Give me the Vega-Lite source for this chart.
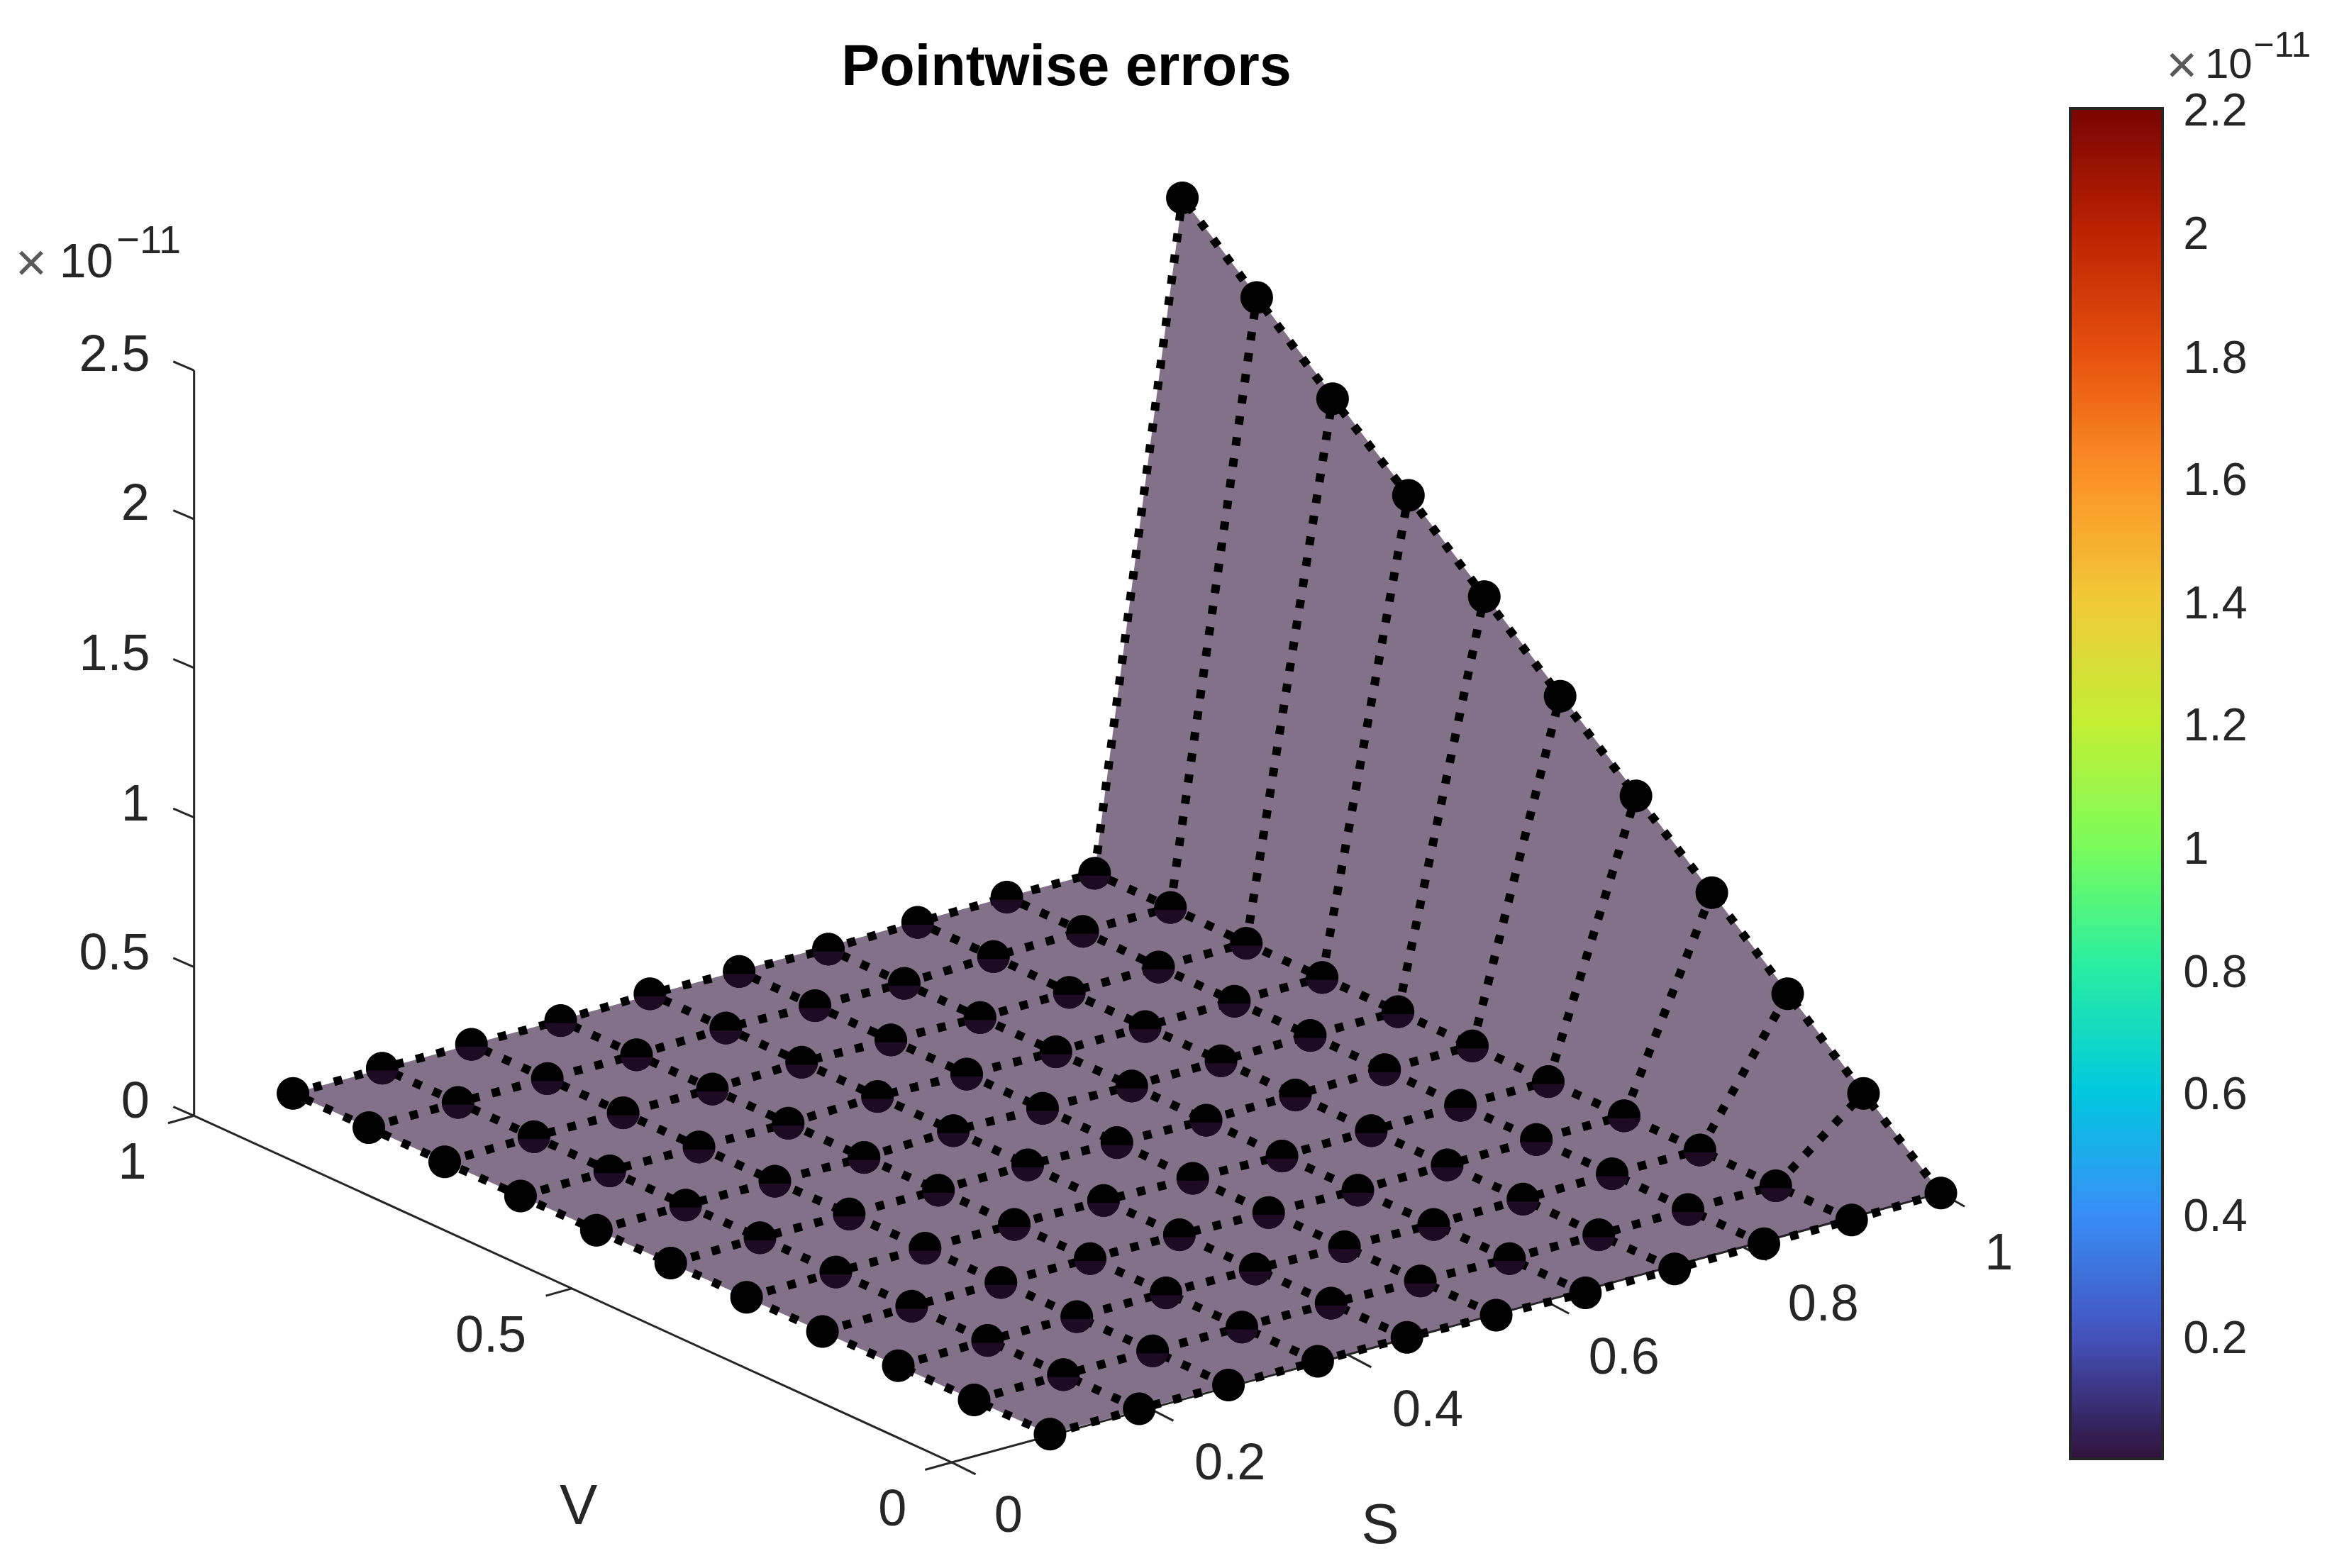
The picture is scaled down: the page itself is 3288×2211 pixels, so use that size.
{
"$schema":"https://vega.github.io/schema/vega-lite/v6.json",
"width":3288,"height":2211,"padding":0,
"autosize":{"type":"fit","contains":"padding"},
"background":"white",
"view":{"stroke":null},
"config":{"text":{"font":"Liberation Sans","color":"#262626"}},
"datasets":{
"surface":[{"px":197,"py":735,"py2":735},{"px":706,"py":595,"py2":964},{"px":736,"py":587,"py2":956},{"px":795,"py":133,"py2":940},{"px":1305,"py":802,"py2":802}],
"axes":[
{"seg":"z","px":130.5,"py":249},{"seg":"z","px":130.5,"py":750},
{"seg":"v","px":130.5,"py":750},{"seg":"v","px":640,"py":983},
{"seg":"s","px":640,"py":983},{"seg":"s","px":1305,"py":802},
{"seg":"zt0","px":130.5,"py":750},{"seg":"zt0","px":116.5,"py":744},
{"seg":"zt1","px":130.5,"py":650},{"seg":"zt1","px":116.5,"py":644},
{"seg":"zt2","px":130.5,"py":549.5},{"seg":"zt2","px":116.5,"py":543.5},
{"seg":"zt3","px":130.5,"py":449},{"seg":"zt3","px":116.5,"py":443},
{"seg":"zt4","px":130.5,"py":349},{"seg":"zt4","px":116.5,"py":343},
{"seg":"zt5","px":130.5,"py":249},{"seg":"zt5","px":116.5,"py":243},
{"seg":"vt0","px":640,"py":983},{"seg":"vt0","px":622,"py":988},
{"seg":"vt1","px":385,"py":866},{"seg":"vt1","px":367,"py":871},
{"seg":"vt2","px":130.5,"py":750},{"seg":"vt2","px":113,"py":755},
{"seg":"st0","px":640,"py":983},{"seg":"st0","px":656,"py":991},
{"seg":"st1","px":773,"py":946.8},{"seg":"st1","px":789,"py":955},
{"seg":"st2","px":906,"py":910.6},{"seg":"st2","px":922,"py":919},
{"seg":"st3","px":1039,"py":874.4},{"seg":"st3","px":1055,"py":883},
{"seg":"st4","px":1172,"py":838.2},{"seg":"st4","px":1188,"py":847},
{"seg":"st5","px":1305,"py":802},{"seg":"st5","px":1321,"py":811}
],
"cbticks":[
{"v":0.2,"px":1445,"py":898.5},{"v":0.2,"px":1454,"py":898.5},
{"v":0.4,"px":1445,"py":815.9},{"v":0.4,"px":1454,"py":815.9},
{"v":0.6,"px":1445,"py":733.4},{"v":0.6,"px":1454,"py":733.4},
{"v":0.8,"px":1445,"py":650.8},{"v":0.8,"px":1454,"py":650.8},
{"v":1.0,"px":1445,"py":568.3},{"v":1.0,"px":1454,"py":568.3},
{"v":1.2,"px":1445,"py":485.8},{"v":1.2,"px":1454,"py":485.8},
{"v":1.4,"px":1445,"py":403.2},{"v":1.4,"px":1454,"py":403.2},
{"v":1.6,"px":1445,"py":320.7},{"v":1.6,"px":1454,"py":320.7},
{"v":1.8,"px":1445,"py":238.1},{"v":1.8,"px":1454,"py":238.1},
{"v":2.0,"px":1445,"py":155.6},{"v":2.0,"px":1454,"py":155.6}
],
"cblabels":[
{"t":"2.2","px":1468,"py":75},{"t":"2","px":1468,"py":158},{"t":"1.8","px":1468,"py":241},{"t":"1.6","px":1468,"py":323},{"t":"1.4","px":1468,"py":406},{"t":"1.2","px":1468,"py":488},{"t":"1","px":1468,"py":571},{"t":"0.8","px":1468,"py":654},{"t":"0.6","px":1468,"py":736},{"t":"0.4","px":1468,"py":818},{"t":"0.2","px":1468,"py":900}
],
"ticklabels":[
{"t":"2.5","px":77,"py":239},{"t":"2","px":91,"py":339},{"t":"1.5","px":77,"py":440},{"t":"1","px":91,"py":541},{"t":"0.5","px":77,"py":641},{"t":"0","px":91,"py":741},
{"t":"1","px":89,"py":782},{"t":"0.5","px":330,"py":898},{"t":"0","px":600,"py":1015},
{"t":"0","px":678,"py":1019},{"t":"0.2","px":827,"py":984},{"t":"0.4","px":960,"py":948},{"t":"0.6","px":1092,"py":913},{"t":"0.8","px":1226,"py":877},{"t":"1","px":1344,"py":843}
],
"axisnames":[{"t":"V","px":389,"py":1013},{"t":"S","px":928,"py":1026}],
"titles":[{"t":"Pointwise errors","px":717,"py":46}],
"times":[{"t":"×","px":21,"py":178},{"t":"×","px":1467,"py":45}],
"multz":[{"t":"10","px":58,"py":177}],
"multc":[{"t":"10","px":1498.5,"py":44}],
"expz":[{"t":"−11","px":100,"py":162}],
"expc":[{"t":"−11","px":1534.5,"py":31}],
"grid":[
{"S":0,"V":0,"Z":0,"px":706,"py":964},{"S":0,"V":0.1,"Z":0,"px":655,"py":941},{"S":0,"V":0.2,"Z":0,"px":604,"py":918},{"S":0,"V":0.3,"Z":0,"px":553,"py":895},{"S":0,"V":0.4,"Z":0,"px":502,"py":872},{"S":0,"V":0.5,"Z":0,"px":451,"py":849},{"S":0,"V":0.6,"Z":0,"px":401,"py":827},{"S":0,"V":0.7,"Z":0,"px":350,"py":804},{"S":0,"V":0.8,"Z":0,"px":299,"py":781},{"S":0,"V":0.9,"Z":0,"px":248,"py":758},{"S":0,"V":1,"Z":0,"px":197,"py":735},
{"S":0.1,"V":0,"Z":0,"px":766,"py":947},{"S":0.1,"V":0.1,"Z":0,"px":715,"py":924},{"S":0.1,"V":0.2,"Z":0,"px":664,"py":901},{"S":0.1,"V":0.3,"Z":0,"px":613,"py":878},{"S":0.1,"V":0.4,"Z":0,"px":562,"py":855},{"S":0.1,"V":0.5,"Z":0,"px":511,"py":832},{"S":0.1,"V":0.6,"Z":0,"px":461,"py":810},{"S":0.1,"V":0.7,"Z":0,"px":410,"py":787},{"S":0.1,"V":0.8,"Z":0,"px":359,"py":764},{"S":0.1,"V":0.9,"Z":0,"px":308,"py":741},{"S":0.1,"V":1,"Z":0,"px":257,"py":718},
{"S":0.2,"V":0,"Z":0,"px":826,"py":931},{"S":0.2,"V":0.1,"Z":0,"px":775,"py":908},{"S":0.2,"V":0.2,"Z":0,"px":724,"py":885},{"S":0.2,"V":0.3,"Z":0,"px":673,"py":862},{"S":0.2,"V":0.4,"Z":0,"px":622,"py":839},{"S":0.2,"V":0.5,"Z":0,"px":571,"py":816},{"S":0.2,"V":0.6,"Z":0,"px":521,"py":794},{"S":0.2,"V":0.7,"Z":0,"px":470,"py":771},{"S":0.2,"V":0.8,"Z":0,"px":419,"py":748},{"S":0.2,"V":0.9,"Z":0,"px":368,"py":725},{"S":0.2,"V":1,"Z":0,"px":317,"py":702},
{"S":0.3,"V":0,"Z":0,"px":886,"py":915},{"S":0.3,"V":0.1,"Z":0,"px":835,"py":892},{"S":0.3,"V":0.2,"Z":0,"px":784,"py":869},{"S":0.3,"V":0.3,"Z":0,"px":733,"py":846},{"S":0.3,"V":0.4,"Z":0,"px":682,"py":823},{"S":0.3,"V":0.5,"Z":0,"px":631,"py":800},{"S":0.3,"V":0.6,"Z":0,"px":581,"py":778},{"S":0.3,"V":0.7,"Z":0,"px":530,"py":755},{"S":0.3,"V":0.8,"Z":0,"px":479,"py":732},{"S":0.3,"V":0.9,"Z":0,"px":428,"py":709},{"S":0.3,"V":1,"Z":0,"px":377,"py":686},
{"S":0.4,"V":0,"Z":0,"px":946,"py":899},{"S":0.4,"V":0.1,"Z":0,"px":895,"py":876},{"S":0.4,"V":0.2,"Z":0,"px":844,"py":853},{"S":0.4,"V":0.3,"Z":0,"px":793,"py":830},{"S":0.4,"V":0.4,"Z":0,"px":742,"py":807},{"S":0.4,"V":0.5,"Z":0,"px":691,"py":783},{"S":0.4,"V":0.6,"Z":0,"px":641,"py":760},{"S":0.4,"V":0.7,"Z":0,"px":590,"py":737},{"S":0.4,"V":0.8,"Z":0,"px":539,"py":714},{"S":0.4,"V":0.9,"Z":0,"px":488,"py":691},{"S":0.4,"V":1,"Z":0,"px":437,"py":668},
{"S":0.5,"V":0,"Z":0,"px":1006,"py":884},{"S":0.5,"V":0.1,"Z":0,"px":955,"py":861},{"S":0.5,"V":0.2,"Z":0,"px":904,"py":838},{"S":0.5,"V":0.3,"Z":0,"px":853,"py":815},{"S":0.5,"V":0.4,"Z":0,"px":802,"py":792},{"S":0.5,"V":0.5,"Z":0,"px":751,"py":768},{"S":0.5,"V":0.6,"Z":0,"px":701,"py":745},{"S":0.5,"V":0.7,"Z":0,"px":650,"py":722},{"S":0.5,"V":0.8,"Z":0,"px":599,"py":699},{"S":0.5,"V":0.9,"Z":0,"px":548,"py":676},{"S":0.5,"V":1,"Z":0,"px":497,"py":653},
{"S":0.6,"V":0,"Z":0,"px":1066,"py":869},{"S":0.6,"V":0.1,"Z":0,"px":1015,"py":846},{"S":0.6,"V":0.2,"Z":0,"px":964,"py":823},{"S":0.6,"V":0.3,"Z":0,"px":913,"py":800},{"S":0.6,"V":0.4,"Z":0,"px":862,"py":777},{"S":0.6,"V":0.5,"Z":0,"px":811,"py":753},{"S":0.6,"V":0.6,"Z":0,"px":761,"py":730},{"S":0.6,"V":0.7,"Z":0,"px":710,"py":707},{"S":0.6,"V":0.8,"Z":0,"px":659,"py":684},{"S":0.6,"V":0.9,"Z":0,"px":608,"py":661},{"S":0.6,"V":1,"Z":0,"px":557,"py":638},
{"S":0.7,"V":0,"Z":0,"px":1126,"py":853},{"S":0.7,"V":0.1,"Z":0,"px":1075,"py":830},{"S":0.7,"V":0.2,"Z":0,"px":1024,"py":806},{"S":0.7,"V":0.3,"Z":0,"px":973,"py":783},{"S":0.7,"V":0.4,"Z":0,"px":922,"py":760},{"S":0.7,"V":0.5,"Z":0,"px":871,"py":736},{"S":0.7,"V":0.6,"Z":0,"px":821,"py":713},{"S":0.7,"V":0.7,"Z":0,"px":770,"py":690},{"S":0.7,"V":0.8,"Z":0,"px":719,"py":667},{"S":0.7,"V":0.9,"Z":0,"px":668,"py":643},{"S":0.7,"V":1,"Z":0,"px":617,"py":620},
{"S":0.8,"V":0,"Z":0,"px":1186,"py":836},{"S":0.8,"V":0.1,"Z":0,"px":1135,"py":813},{"S":0.8,"V":0.2,"Z":0,"px":1084,"py":789},{"S":0.8,"V":0.3,"Z":0,"px":1033,"py":766},{"S":0.8,"V":0.4,"Z":0,"px":982,"py":743},{"S":0.8,"V":0.5,"Z":0,"px":931,"py":719},{"S":0.8,"V":0.6,"Z":0,"px":881,"py":696},{"S":0.8,"V":0.7,"Z":0,"px":830,"py":673},{"S":0.8,"V":0.8,"Z":0,"px":779,"py":650},{"S":0.8,"V":0.9,"Z":0,"px":728,"py":626},{"S":0.8,"V":1,"Z":0,"px":677,"py":603},
{"S":0.9,"V":0,"Z":0,"px":1245,"py":820},{"S":0.9,"V":0.1,"Z":0,"px":1194,"py":797},{"S":0.9,"V":0.2,"Z":0,"px":1143,"py":773},{"S":0.9,"V":0.3,"Z":0,"px":1092,"py":750},{"S":0.9,"V":0.4,"Z":0,"px":1041,"py":727},{"S":0.9,"V":0.5,"Z":0,"px":990,"py":703},{"S":0.9,"V":0.6,"Z":0,"px":940,"py":680},{"S":0.9,"V":0.7,"Z":0,"px":889,"py":657},{"S":0.9,"V":0.8,"Z":0,"px":838,"py":634},{"S":0.9,"V":0.9,"Z":0,"px":787,"py":610},{"S":0.9,"V":1,"Z":0,"px":736,"py":587},
{"S":1,"V":0,"Z":0,"px":1305,"py":802},{"S":1,"V":0.1,"Z":0.22,"px":1253,"py":735},{"S":1,"V":0.2,"Z":0.44,"px":1202,"py":668},{"S":1,"V":0.3,"Z":0.66,"px":1151,"py":600},{"S":1,"V":0.4,"Z":0.88,"px":1100,"py":535},{"S":1,"V":0.5,"Z":1.1,"px":1049,"py":468},{"S":1,"V":0.6,"Z":1.32,"px":998,"py":401},{"S":1,"V":0.7,"Z":1.54,"px":947,"py":333},{"S":1,"V":0.8,"Z":1.76,"px":896,"py":268},{"S":1,"V":0.9,"Z":1.98,"px":845,"py":200},{"S":1,"V":1,"Z":2.2,"px":795,"py":133}
]
},
"encoding":{
"x":{"field":"px","type":"quantitative","axis":null,"scale":{"domain":[0,1568],"nice":false,"zero":false}},
"y":{"field":"py","type":"quantitative","axis":null,"scale":{"domain":[1054,0],"nice":false,"zero":false}}
},
"layer":[
{"data":{"name":"axes"},"mark":{"type":"line","stroke":"#262626","strokeWidth":3},"encoding":{"detail":{"field":"seg"}}},
{"data":{"name":"surface"},"mark":{"type":"area","fill":"#30123b","fillOpacity":0.6,"orient":"vertical"},"encoding":{"y2":{"field":"py2"}}},
{"data":{"name":"grid"},"mark":{"type":"line","stroke":"#000000","strokeWidth":12,"strokeDash":[12,18]},"encoding":{"detail":{"field":"S"},"order":{"field":"V"}}},
{"data":{"name":"grid"},"mark":{"type":"line","stroke":"#000000","strokeWidth":12,"strokeDash":[12,18]},"encoding":{"detail":{"field":"V"},"order":{"field":"S"}}},
{"data":{"name":"grid"},"mark":{"type":"point","filled":true,"opacity":1,"fill":"#000000","size":2116,"shape":"M-1,0 A1,1 0 1 1 1,0 A1,1 0 1 1 -1,0 Z"}},
{"data":{"name":"grid"},"transform":[{"filter":"datum.S>0 && datum.S<1 && datum.V>0"}],"mark":{"type":"point","filled":true,"opacity":1,"fill":"#1d0b23","size":2116,"shape":"M-0.99,0.15 A1,1 0 0 0 0.99,0.15 Z"}},
{"data":{"name":"grid"},"mark":{"type":"point","filled":true,"opacity":1,"size":0},"encoding":{"color":{"field":"Z","type":"quantitative","scale":{"range":["#30123b","#4145ab","#4675ed","#39a2fc","#1bcfd4","#24eca6","#61fc6c","#a4fc3b","#d1e834","#f3c63a","#fe9b2d","#f36315","#d93806","#b11901","#7a0403"],"domain":[0,2.2]},"legend":{"orient":"none","legendX":2919,"legendY":153,"title":null,"direction":"vertical","gradientLength":1904,"gradientThickness":130,"gradientStrokeColor":"#262626","gradientStrokeWidth":4,"gradientOpacity":1,"labelExpr":"''","values":[0,2.2]}}}},
{"data":{"name":"cbticks"},"mark":{"type":"line","stroke":"#262626","strokeWidth":3},"encoding":{"detail":{"field":"v"}}},
{"data":{"name":"cblabels"},"mark":{"type":"text","fontSize":65,"align":"left","baseline":"middle"},"encoding":{"text":{"field":"t"}}},
{"data":{"name":"ticklabels"},"mark":{"type":"text","fontSize":72,"align":"center","baseline":"middle"},"encoding":{"text":{"field":"t"}}},
{"data":{"name":"axisnames"},"mark":{"type":"text","fontSize":80,"align":"center","baseline":"middle"},"encoding":{"text":{"field":"t"}}},
{"data":{"name":"titles"},"mark":{"type":"text","fontSize":81,"fontWeight":"bold","color":"#000000","align":"center","baseline":"middle"},"encoding":{"text":{"field":"t"}}},
{"data":{"name":"times"},"mark":{"type":"text","fontSize":76,"color":"#595959","align":"center","baseline":"middle"},"encoding":{"text":{"field":"t"}}},
{"data":{"name":"multz"},"mark":{"type":"text","fontSize":68,"align":"center","baseline":"middle"},"encoding":{"text":{"field":"t"}}},
{"data":{"name":"multc"},"mark":{"type":"text","fontSize":60,"align":"center","baseline":"middle"},"encoding":{"text":{"field":"t"}}},
{"data":{"name":"expz"},"mark":{"type":"text","fontSize":56,"align":"center","baseline":"middle"},"encoding":{"text":{"field":"t"}}},
{"data":{"name":"expc"},"mark":{"type":"text","fontSize":50,"align":"center","baseline":"middle"},"encoding":{"text":{"field":"t"}}}
]
}
